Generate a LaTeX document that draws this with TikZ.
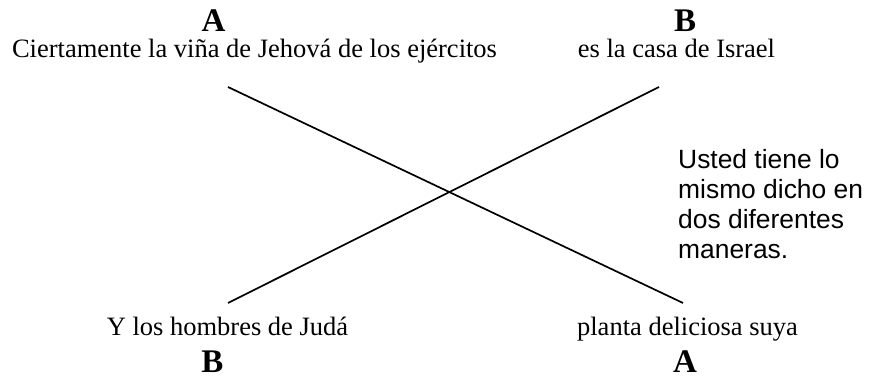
\documentclass[tikz,border=0pt]{standalone}
\usepackage{fontspec}
\setmainfont{Liberation Serif}
\newfontfamily\notefont{Liberation Sans}
\usetikzlibrary{positioning}
\tikzstyle{letterBold}=[font=\fontsize{33}{33}\selectfont\bfseries, inner sep=0pt, anchor=base]
\tikzstyle{phrase}    =[font=\fontsize{26.5}{30}\selectfont, inner sep=0pt, anchor=base]
\tikzstyle{noteText}  =[font=\notefont\fontsize{26.4}{30}\selectfont, inner sep=0pt, align=left, anchor=base west]
\tikzstyle{crossLine} =[line width=1.7pt]

\begin{document}
\begin{tikzpicture}[x=1pt,y=-1pt]
      \useasboundingbox (0,0) rectangle (876,377);
      \node[letterBold] (topA) at (213.5,32) {A};
      \node[letterBold] (topB) at (685,32) {B};
      \node[phrase] (vina) at (254.5,58) {Ciertamente la viña de Jehová de los ejércitos};
      \node[phrase] (casa) at (676.5,58) {es la casa de Israel};
      \node[phrase] (hombres) at (227.5,335) {Y los hombres de Judá};
      \node[phrase] (planta) at (687.5,335) {planta deliciosa suya};
      \node[letterBold] (botB) at (212.5,372) {B};
      \node[letterBold] (botA) at (685,372) {A};
      \node[noteText] (nota) at (678,258) {Usted tiene lo\\mismo dicho en\\dos diferentes\\maneras.};
      \coordinate (a1) at (228,87);
      \coordinate (a2) at (683,303);
      \coordinate (b1) at (228,303);
      \coordinate (b2) at (659,87);
      \draw[crossLine] (a1) -- (a2);
      \draw[crossLine] (b1) -- (b2);
\end{tikzpicture}
\end{document}
